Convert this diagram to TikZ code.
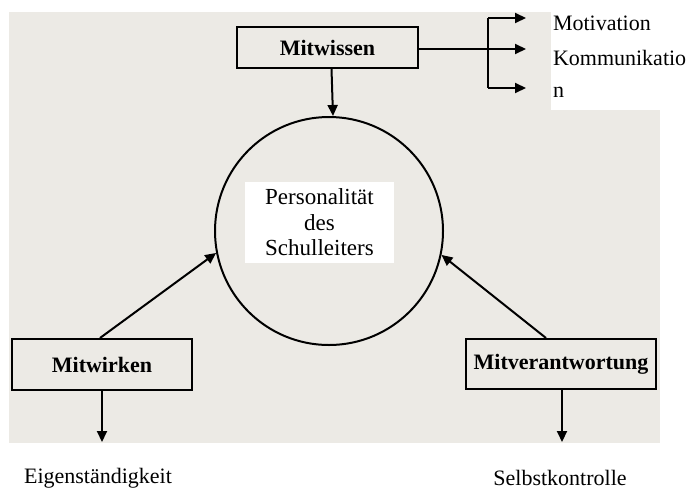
\documentclass[tikz,border=0pt]{standalone}
\usepackage{fontspec}
\setmainfont{Liberation Serif}
\usetikzlibrary{arrows.meta}
\definecolor{scanbg}{RGB}{236,234,229}

\begin{document}
\begin{tikzpicture}[x=1pt, y=-1pt, line width=2pt,
  >={Triangle[length=11pt,width=10pt]},
  box/.style={draw, fill=scanbg, inner sep=0pt,
    font=\fontsize{22}{24}\selectfont\bfseries},
  lab/.style={fill=white, inner sep=1pt, font=\fontsize{22}{25}\selectfont}]
  \useasboundingbox (0,0) rectangle (695,490);
  % eingescannte Seite
  \fill[scanbg] (9,12) rectangle (660,443);
  \fill[white] (551,0) rectangle (660,110);
  % Kreis in der Mitte
  \node[draw, circle, minimum size=228pt, inner sep=0pt] (pers) at (329,231) {};
  \node[lab, align=center, minimum width=149pt, minimum height=81pt,
    font=\fontsize{23}{25.5}\selectfont] (perstext) at (319.5,222.5)
    {Personalität\\des\\Schulleiters};
  % drei Kästen
  \node[box, minimum width=181pt, minimum height=41pt] (wissen) at (327.5,47.5) {Mitwissen};
  \node[box, minimum width=180pt, minimum height=51pt] (wirken) at (102,364.5) {Mitwirken};
  \node[box, minimum width=190pt, minimum height=50pt] (verant) at (561,364) {Mitverantwortung};
  % Verzweigung rechts oben
  \coordinate (bustop) at (488,18);
  \coordinate (busbot) at (488,88);
  \coordinate (motend) at (526,18);
  \coordinate (komend) at (526,49);
  \coordinate (nend) at (526,88);
  \draw[->] (wissen.east |- komend) -- (komend);
  \draw (bustop) -- (busbot);
  \draw[->] (bustop) -- (motend);
  \draw[->] (busbot) -- (nend);
  \node[lab, anchor=west] (mot) at (551,23) {Motivation};
  \node[lab, anchor=west] (kom) at (551,58) {Kommunikatio};
  \node[lab, anchor=west] (n) at (551,92) {n};
  % Pfeile zum Kreis
  \draw[->] ([xshift=4pt]wissen.south) -- ([xshift=4pt]pers.north);
  \draw[->] ([xshift=-2pt]wirken.north) -- (pers.191);
  \draw[->] ([xshift=-15pt]verant.north) -- (pers.348);
  % Pfeile nach unten
  \coordinate (eigenend) at (102,442);
  \coordinate (selbstend) at (562,442);
  \draw[->] (wirken.south) -- (eigenend);
  \draw[->] ([xshift=1pt]verant.south) -- (selbstend);
  \node[lab] (eigen) at (98,478) {Eigenständigkeit};
  \node[lab] (selbst) at (560,478) {Selbstkontrolle};
\end{tikzpicture}
\end{document}
